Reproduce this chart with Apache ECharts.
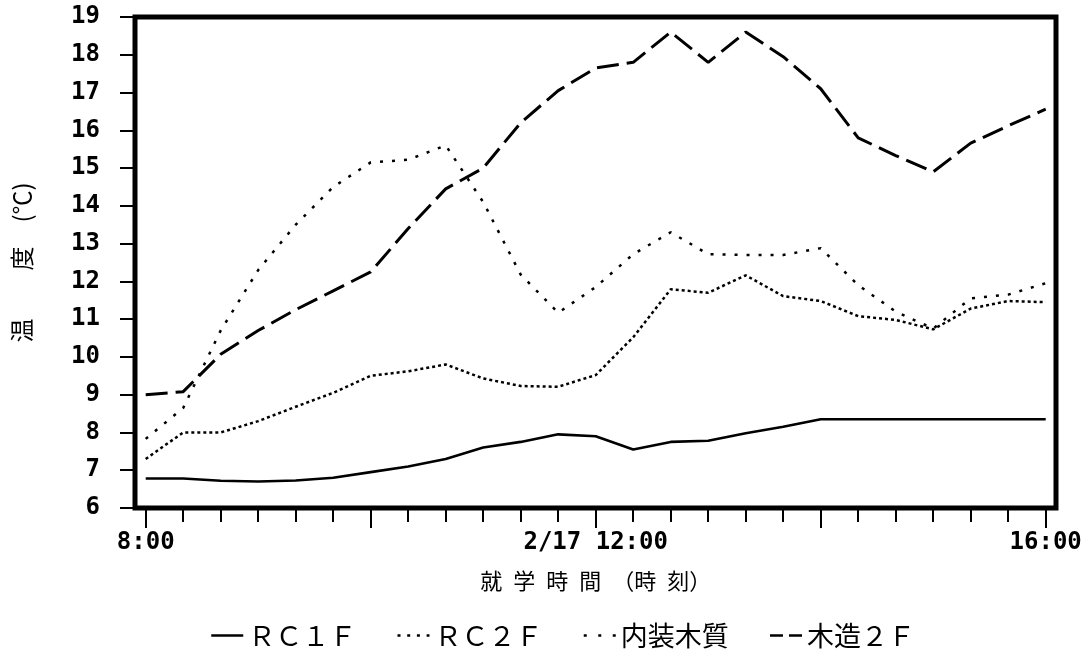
<!DOCTYPE html>
<html>
<head>
<meta charset="utf-8">
<script src="https://cdn.jsdelivr.net/npm/echarts@6/dist/echarts.min.js"></script>
<style>
  html, body { margin: 0; padding: 0; background: #fff; }
  #chart { width: 1088px; height: 664px; }
</style>
</head>
<body>
<div id="chart"></div>
<script>
// Readings every 20 minutes, 8:00 to 16:00 (minutes after 8:00)
const minutes = [0, 20, 40, 60, 80, 100, 120, 140, 160, 180, 200, 220, 240,
                 260, 280, 300, 320, 340, 360, 380, 400, 420, 440, 460, 480];

// Room temperatures (°C)
const rc1f = [6.78, 6.78, 6.72, 6.70, 6.73, 6.80, 6.95, 7.10, 7.30, 7.60, 7.75, 7.95, 7.90,
              7.55, 7.75, 7.78, 7.98, 8.15, 8.35, 8.35, 8.35, 8.35, 8.35, 8.35, 8.35];
const rc2f = [7.30, 8.00, 8.00, 8.30, 8.68, 9.05, 9.50, 9.62, 9.80, 9.43, 9.23, 9.21, 9.52,
              10.52, 11.79, 11.70, 12.16, 11.61, 11.48, 11.08, 10.98, 10.73, 11.28, 11.48, 11.45];
const naisou = [7.83, 8.65, 10.70, 12.30, 13.50, 14.50, 15.15, 15.22, 15.60, 14.10, 12.18, 11.17, 11.85,
                12.72, 13.30, 12.72, 12.70, 12.70, 12.88, 11.90, 11.20, 10.75, 11.55, 11.65, 11.95];
const mokuzou = [9.00, 9.08, 10.07, 10.70, 11.25, 11.75, 12.25, 13.40, 14.45, 15.00, 16.20, 17.05, 17.65,
                 17.80, 18.60, 17.80, 18.60, 17.95, 17.10, 15.80, 15.33, 14.90, 15.66, 16.12, 16.56];

// Series names and time-axis labels
const names = ['ＲＣ１Ｆ', 'ＲＣ２Ｆ', '内装木質', '木造２Ｆ'];
const timeLabels = { 0: '8:00', 240: '2/17 12:00', 480: '16:00' };

const pair = arr => minutes.map((m, i) => [m, arr[i]]);

const monoFont = '"DejaVu Sans Mono", "Liberation Mono", monospace';
const cjkFont = '"Noto Sans CJK JP", sans-serif';

// line patterns: solid, fine dots, sparse dots, long dashes
const styles = [
  { width: 2.6, type: 'solid' },
  { width: 2.5, type: [3, 3] },
  { width: 2.5, type: [3, 9] },
  { width: 3, type: [22, 8] }
];
const legendStyles = [
  { width: 2.5, type: 'solid' },
  { width: 2.5, type: [3, 6.7] },
  { width: 2.5, type: [3, 11.5] },
  { width: 2.5, type: [13, 6] }
];
const seriesData = [rc1f, rc2f, naisou, mokuzou];

const chart = echarts.init(document.getElementById('chart'), null, { renderer: 'canvas' });

chart.setOption({
  animation: false,
  backgroundColor: '#fff',
  grid: [
    // outer frame carrying the temperature scale
    { left: 135, top: 17, width: 921, height: 491, show: true,
      borderColor: '#000', borderWidth: 5, backgroundColor: 'transparent' },
    // plotting area for the 8:00–16:00 time span
    { left: 145.7, top: 17, width: 900, height: 491 }
  ],
  xAxis: [
    { gridIndex: 0, type: 'value', min: 0, max: 1, show: false },
    {
      gridIndex: 1, type: 'value', min: 0, max: 480, interval: 120,
      axisLine: { show: false },
      axisTick: { show: true, length: 20, lineStyle: { color: '#000', width: 2 } },
      minorTick: { show: true, splitNumber: 6, length: 14, lineStyle: { color: '#000', width: 2 } },
      splitLine: { show: false },
      axisLabel: {
        margin: 23, color: '#000', fontFamily: monoFont, fontWeight: 'bold', fontSize: 24,
        formatter: v => timeLabels[v] || ''
      },
      name: '就\u2002学\u2002時\u2002間\u2002（時\u2002刻）',
      nameLocation: 'middle', nameGap: 62,
      nameTextStyle: { color: '#000', fontFamily: cjkFont, fontSize: 22 }
    }
  ],
  yAxis: [
    {
      gridIndex: 0, type: 'value', min: 6, max: 19, interval: 1,
      axisLine: { show: false },
      axisTick: { show: true, length: 15, lineStyle: { color: '#000', width: 2 } },
      splitLine: { show: false },
      axisLabel: { margin: 35, color: '#000', fontFamily: monoFont, fontWeight: 'bold', fontSize: 24 },
      name: '温\u3000\u3000度\u3000(℃)',
      nameLocation: 'middle', nameRotate: 90, nameGap: 101,
      nameTextStyle: { color: '#000', fontFamily: cjkFont, fontSize: 24 }
    },
    { gridIndex: 1, type: 'value', min: 6, max: 19, show: false }
  ],
  legend: {
    left: 205, top: 617, orient: 'horizontal',
    itemWidth: 32, itemHeight: 14, itemGap: 40,
    textStyle: { color: '#000', fontFamily: cjkFont, fontSize: 27 },
    data: names.map((n, i) => ({
      name: n,
      itemStyle: { opacity: 0 },
      lineStyle: Object.assign({ color: '#000' }, legendStyles[i])
    }))
  },
  series: names.map((n, i) => ({
    name: n, type: 'line', xAxisIndex: 1, yAxisIndex: 1,
    data: pair(seriesData[i]),
    symbol: 'none', showSymbol: false,
    lineStyle: Object.assign({ color: '#000' }, styles[i]),
    itemStyle: { color: '#000' }
  }))
});
</script>
</body>
</html>
